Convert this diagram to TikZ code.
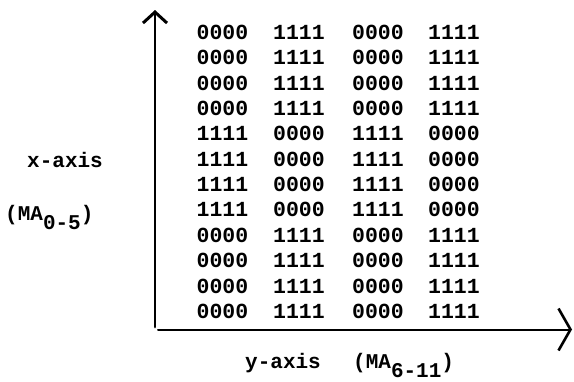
\documentclass[tikz,border=0pt]{standalone}
\usepackage{fontspec}
\setmonofont{Liberation Mono}
\usetikzlibrary{arrows.meta}
\tikzset{
  cell/.style={anchor=base, inner sep=0pt, font=\ttfamily\bfseries\fontsize{21.5}{22}\selectfont},
  lbl/.style={anchor=base west, inner sep=0pt, font=\ttfamily\bfseries\fontsize{21}{22}\selectfont},
  axisline/.style={draw=black, line cap=round},
}
\begin{document}
\begin{tikzpicture}[x=1pt,y=-1pt]
\useasboundingbox (0,0) rectangle (574,381);
% axes
\coordinate (vbot) at (155,327);
\coordinate (vtop) at (155,10);
\coordinate (hleft) at (158,329.5);
\coordinate (hright) at (572,329.5);
\draw[axisline, line width=2.8pt, -{Straight Barb[length=11pt,width=24pt,line width=3pt]}] (vbot) -- (vtop);
\draw[axisline, line width=2pt, -{Straight Barb[length=12pt,width=42pt,line width=2.6pt]}] (hleft) -- (hright);
% table
\foreach \r/\pat in {0/0,1/0,2/0,3/0,4/1,5/1,6/1,7/1,8/0,9/0,10/0,11/0}{
  \pgfmathsetmacro{\yy}{39.5+25.35*\r}
  \ifnum\pat=0
    \node[cell] (c\r a) at (222.5,\yy) {0000};
    \node[cell] (c\r b) at (299,\yy) {1111};
    \node[cell] (c\r c) at (378,\yy) {0000};
    \node[cell] (c\r d) at (454,\yy) {1111};
  \else
    \node[cell] (c\r a) at (222.5,\yy) {1111};
    \node[cell] (c\r b) at (299,\yy) {0000};
    \node[cell] (c\r c) at (378,\yy) {1111};
    \node[cell] (c\r d) at (454,\yy) {0000};
  \fi
}
% labels
\node[lbl] (xlab) at (27,167) {x-axis};
\node[lbl] (xma) at (5,220) {(MA\raisebox{-9pt}{0-5})};
\node[lbl] (ylab) at (245,368) {y-axis};
\node[lbl] (yma) at (353,368) {(MA\raisebox{-9pt}{6-11})};
\end{tikzpicture}
\end{document}
